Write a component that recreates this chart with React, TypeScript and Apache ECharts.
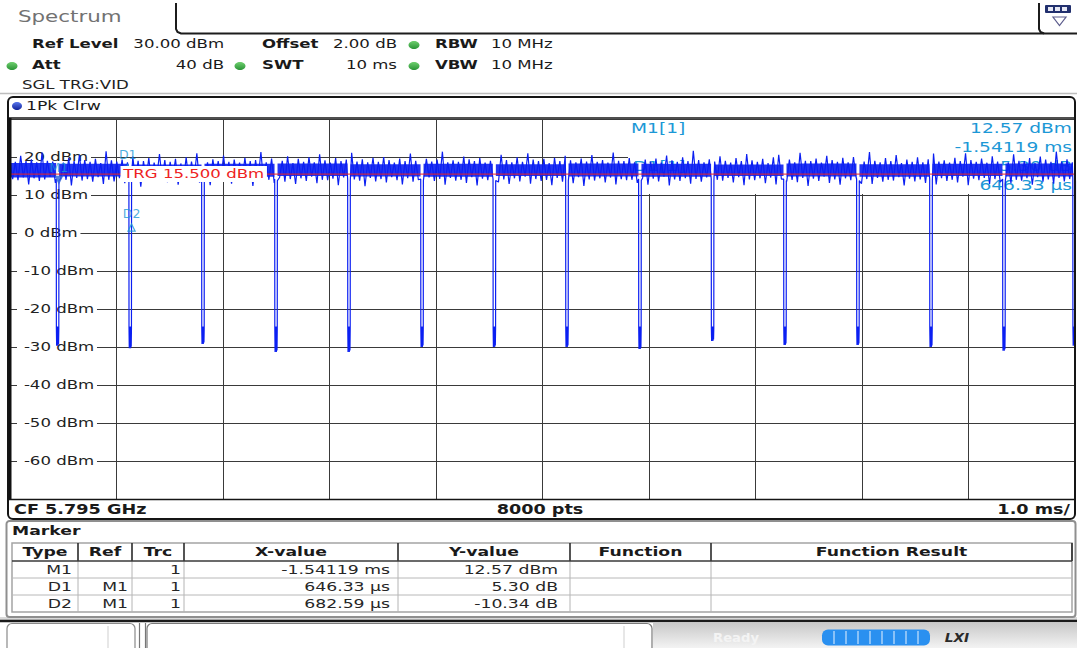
import React, { useEffect, useRef } from "react";
import * as echarts from "echarts";

// ---------------- data ----------------
const X_MIN = -2; // ms
const X_MAX = 8; // ms
const X_DIV = 1; // 1.0 ms/div
const Y_MIN = -70; // dBm
const Y_MAX = 30; // dBm (Ref Level)
const Y_DIV = 10;
const Y_TICK_LABELS = [20, 10, 0, -10, -20, -30, -40, -50, -60];

const PULSE_TIMES_MS = [
  -1.553, -0.871, -0.188, 0.498, 1.183, 1.869, 2.548, 3.23, 3.915, 4.597, 5.277, 5.962, 6.648, 7.333, 7.992,
];
const PULSE_FLOORS_DBM = [
  -29.7, -30.3, -29.2, -31.3, -31.3, -30.0, -30.0, -30.0, -30.5, -28.4, -29.5, -29.5, -30.0, -31.0, -29.7,
];

// dense core of the carrier between the gaps (dBm), one pair per segment
const CORE_LOW_DBM = [14.6, 14.9, 15.0, 14.8, 15.0, 14.9, 14.8, 15.0, 14.9, 14.8, 15.0, 14.9, 14.8, 15.0, 14.9];
const CORE_HIGH_DBM = [18.4, 18.2, 18.0, 18.2, 18.3, 18.1, 18.2, 18.1, 18.3, 18.2, 18.0, 18.3, 18.1, 18.2, 18.3];

// peak-detected trace of the carrier between the gaps (dBm), left to right
const NOISE_DBM = [
  19.1, 14.2, 18.7, 13.9, 20.3, 14.6, 18.9, 12.8, 19.4, 14.4, 18.6, 13.7, 21.2, 14.1, 19.0, 14.8, 18.8, 13.2, 19.6, 14.3,
  18.5, 14.0, 19.8, 12.5, 18.9, 14.5, 20.6, 13.8, 19.2, 14.2, 18.7, 13.5, 19.5, 14.7, 18.4, 12.9, 21.5, 14.0, 19.1, 13.6,
  18.8, 14.4, 19.3, 13.1, 18.6, 14.6, 20.1, 13.9, 19.0, 12.2, 18.9, 14.3, 19.7, 13.6, 18.5, 14.8, 20.8, 14.1, 19.2, 13.4,
  18.7, 14.5, 19.5, 12.7, 18.3, 14.0, 19.9, 13.8, 18.8, 14.6, 21.0, 13.3, 19.1, 14.2, 18.6, 12.6, 19.4, 14.4, 18.9, 13.7,
  20.4, 14.1, 18.7, 13.0, 19.3, 14.7, 18.5, 13.8, 19.8, 14.3, 18.9, 12.4, 19.2, 14.5, 21.3, 13.6, 18.6, 14.0, 19.6, 13.2,
  18.8, 14.6, 19.0, 13.5, 20.2, 14.2, 18.4, 12.9, 19.5, 14.4, 18.7, 13.7, 19.9, 14.8, 18.6, 13.1, 20.7, 14.0, 19.1, 13.9,
  18.5, 14.3, 19.7, 12.6, 18.9, 14.6, 19.3, 13.4, 21.1, 14.1, 18.8, 13.8, 19.4, 12.3, 18.6, 14.5, 19.8, 13.6, 18.7, 14.2,
  20.0, 13.3, 19.2, 14.7, 18.5, 13.9, 19.6, 12.8, 18.9, 14.4, 20.9, 13.5, 19.0, 14.0, 18.4, 13.1, 19.5, 14.6, 18.8, 13.7,
  19.3, 14.2, 21.4, 12.7, 18.6, 14.5, 19.1, 13.8, 18.7, 14.0, 20.1, 13.2, 19.4, 14.7, 18.9, 12.5, 19.7, 14.3, 18.5, 13.9,
  19.0, 14.6, 18.8, 13.4, 20.6, 14.1, 19.2, 12.9, 18.6, 14.4, 19.9, 13.6, 18.7, 14.8, 21.0, 13.0, 19.3, 14.2, 18.9, 13.7,
  19.5, 14.0, 18.4, 12.6, 19.8, 14.5, 18.9, 13.5, 20.3, 14.3, 19.1, 13.1, 18.6, 14.7, 19.6, 12.4, 18.8, 14.1, 20.5, 13.8,
  18.7, 14.4, 19.2, 13.3, 18.5, 14.6, 21.2, 12.8, 19.0, 14.2, 18.9, 13.9, 19.7, 14.0, 18.6, 13.2, 20.0, 14.5, 19.3, 12.7,
  18.8, 14.3, 19.6, 13.6, 18.5, 14.8, 20.4, 12.5, 19.1, 14.1, 18.7, 13.7, 19.9, 14.4, 18.9, 13.0, 21.6, 14.2, 19.2, 13.5,
  18.6, 14.6, 19.4, 12.9, 18.8, 14.0, 20.2, 13.8, 19.0, 14.5, 18.5, 13.3, 19.7, 14.7, 18.9, 12.6, 20.8, 14.1, 19.1, 13.9,
  18.7, 14.4, 19.5, 13.1, 18.4, 14.6, 19.9, 12.8, 20.6, 14.2, 18.8, 13.6, 19.3, 14.0, 18.6, 13.4, 21.1, 14.5, 19.0, 12.4,
  18.9, 14.3, 19.6, 13.7, 18.5, 14.8, 20.3, 13.2, 19.2, 14.1, 18.7, 12.7, 19.8, 14.4, 18.6, 13.9, 20.0, 14.6, 19.4, 13.0,
  18.8, 14.2, 21.3, 12.9, 19.0, 14.5, 18.6, 13.5, 19.7, 14.0, 18.9, 13.8, 20.5, 14.7, 18.4, 12.5, 19.3, 14.3, 18.7, 13.6,
  19.9, 14.1, 18.6, 13.2, 19.4, 14.6, 20.9, 12.8, 18.8, 14.4, 19.1, 13.7, 18.5, 14.0, 19.8, 13.3, 18.9, 14.8, 21.0, 12.6,
  19.2, 14.3, 18.7, 13.9, 19.6, 14.5, 18.5, 12.9, 20.2, 14.2, 18.8, 13.4, 19.5, 14.6, 18.6, 13.1, 20.7, 14.0, 19.0, 13.8,
  18.9, 14.4, 19.7, 12.7, 18.4, 14.7, 20.1, 13.5, 19.3, 14.1, 18.7, 13.0, 21.4, 14.5, 18.8, 13.6, 19.4, 14.2, 18.6, 13.9,
];

// shape of one gap: times relative to pulse centre (ms); edge and knee levels (dBm)
const DIP_OFFSETS_MS = [-0.0125, -0.0115, -0.009, -0.006, -0.003, 0, 0.003, 0.006, 0.009, 0.0115, 0.0125];
const DIP_EDGE_IN_DBM = 14.2;
const DIP_EDGE_OUT_DBM = 13.8;
const DIP_KNEE_DBM = -25;
const DIP_HALF_MS = 0.014;

const TRG_LEVEL_DBM = 15.5;
const M1_TIME_MS = -1.54119;
const M1_LEVEL_DBM = 12.57;
const DELTA_NAMES = ["D1", "D2"];
const DELTA_TIME_US = [646.33, 682.59];
const DELTA_LEVEL_DB = [5.3, -10.34];

const SETTINGS_ROW1 = ["Ref Level", "30.00 dBm", "Offset", "2.00 dB", "RBW", "10 MHz"];
const SETTINGS_ROW2 = ["Att", "40 dB", "SWT", "10 ms", "VBW", "10 MHz"];
const SETTINGS_ROW3 = "SGL TRG:VID";
const CENTER_FREQ = "CF 5.795 GHz";
const SWEEP_POINTS = "8000 pts";
const TIME_PER_DIV = "1.0 ms/";
const TABLE_HEAD = ["Type", "Ref", "Trc", "X-value", "Y-value", "Function", "Function Result"];

// ---------------- styling ----------------
const FONT = '"DejaVu Sans", Verdana, sans-serif';
const FONT_COND = '"DejaVu Sans Condensed", "DejaVu Sans", sans-serif';
const SX = 1.38; // horizontal stretch of the screenshot's lettering
const CYAN = "#1c98d6";
const TRACE = "#0b1ff2";
const RED = "#ee2222";
const GRIDC = "#3a3a3a";

type TOpt = {
  size?: number;
  bold?: boolean;
  italic?: boolean;
  color?: string;
  align?: "left" | "center" | "right";
  z?: number;
  bg?: string;
  pad?: number[];
  family?: string;
  sx?: number;
};

const txt = (x: number, y: number, text: string, o: TOpt = {}) => ({
  type: "text",
  x,
  y,
  scaleX: o.sx ?? SX,
  z: o.z ?? 40,
  silent: true,
  style: {
    text,
    x: 0,
    y: 0,
    fill: o.color ?? "#1a1a1a",
    font: `${o.italic ? "italic " : ""}${o.bold ? "bold " : ""}${o.size ?? 12}px ${o.family ?? FONT}`,
    align: o.align ?? "left",
    verticalAlign: "middle",
    textAlign: o.align ?? "left",
    textVerticalAlign: "middle",
    backgroundColor: o.bg,
    padding: o.pad,
  },
});

const line = (x1: number, y1: number, x2: number, y2: number, stroke: string, lw = 1, z = 30) => ({
  type: "line",
  z,
  silent: true,
  shape: { x1, y1, x2, y2 },
  style: { stroke, lineWidth: lw },
});

const rect = (x: number, y: number, w: number, h: number, style: any, r = 0, z = 30) => ({
  type: "rect",
  z,
  silent: true,
  shape: { x, y, width: w, height: h, r },
  style,
});

const dot = (cx: number, cy: number, c1: string, c2: string, rx = 5.5, ry = 4) => ({
  type: "ellipse",
  z: 30,
  silent: true,
  shape: { cx, cy, rx, ry },
  style: { fill: new echarts.graphic.LinearGradient(0, 0, 0, 1, [{ offset: 0, color: c1 }, { offset: 1, color: c2 }]) },
});

// ---------------- derived ----------------
function buildTrace(): number[][] {
  const pts: number[][] = [];
  const n = NOISE_DBM.length;
  const dt = (X_MAX - X_MIN) / (n - 1);
  NOISE_DBM.forEach((v, i) => {
    const t = X_MIN + i * dt;
    if (PULSE_TIMES_MS.some((p) => Math.abs(t - p) < 0.016)) return;
    pts.push([t, v]);
  });
  PULSE_TIMES_MS.forEach((p, k) => {
    const f = PULSE_FLOORS_DBM[k];
    const lv = [
      DIP_EDGE_IN_DBM, DIP_KNEE_DBM, f, DIP_KNEE_DBM - 0.6, f + 0.5, DIP_KNEE_DBM + 0.4,
      f, DIP_KNEE_DBM - 1, f + 0.4, DIP_KNEE_DBM, DIP_EDGE_OUT_DBM,
    ];
    DIP_OFFSETS_MS.forEach((o, j) => pts.push([p + o, lv[j]]));
  });
  pts.sort((a, b) => a[0] - b[0]);
  return pts;
}

// [start, end, low, high] for the solid core between two gaps
function buildCore(): number[][] {
  const bounds = [X_MIN - DIP_HALF_MS, ...PULSE_TIMES_MS];
  const segs: number[][] = [];
  for (let k = 0; k < CORE_LOW_DBM.length; k++) {
    const s = Math.max(X_MIN, bounds[k] + DIP_HALF_MS);
    const e = Math.min(X_MAX, bounds[k + 1] !== undefined ? bounds[k + 1] - DIP_HALF_MS : X_MAX);
    if (e > s) segs.push([s, e, CORE_LOW_DBM[k], CORE_HIGH_DBM[k]]);
  }
  return segs;
}

const fmtDb = (v: number) => `${v.toFixed(2)} dB`;
const DELTAS = DELTA_NAMES.map((name, i) => ({
  name,
  t: M1_TIME_MS + DELTA_TIME_US[i] / 1000,
  v: M1_LEVEL_DBM + DELTA_LEVEL_DB[i],
  xText: `${DELTA_TIME_US[i].toFixed(2)} µs`,
  yText: fmtDb(DELTA_LEVEL_DB[i]),
}));
const M1_X_TEXT = `${M1_TIME_MS.toFixed(5)} ms`;
const M1_Y_TEXT = `${M1_LEVEL_DBM.toFixed(2)} dBm`;

function staticGraphics(): any[] {
  const g: any[] = [];
  // tab header
  g.push({
    type: "polyline", z: 30, silent: true,
    shape: { points: [[176, 3], [176, 29], [177.5, 32], [181, 33.5], [1077, 33.5]] },
    style: { stroke: "#1c1c1c", lineWidth: 2, fill: "none" },
  });
  g.push({
    type: "polyline", z: 30, silent: true,
    shape: { points: [[1039, 3], [1039, 29], [1040.5, 32], [1044, 33.5]] },
    style: { stroke: "#1c1c1c", lineWidth: 2, fill: "none" },
  });
  g.push(rect(1045, 5, 26, 8, { fill: "#22306e" }, 1));
  [1048, 1055, 1062].forEach((x) => g.push(rect(x, 7, 5, 4, { fill: "#e6e8f4" }, 0, 31)));
  g.push({
    type: "polygon", z: 30, silent: true,
    shape: { points: [[1053, 17], [1066, 17], [1059.5, 25.5]] },
    style: { fill: "#ffffff", stroke: "#5c5c8c", lineWidth: 1.2 },
  });
  g.push(txt(18, 17, "Spectrum", { size: 15.5, color: "#727272" }));

  // settings
  const r1y = 44, r2y = 65;
  g.push(txt(32, r1y, SETTINGS_ROW1[0], { bold: true }));
  g.push(txt(224, r1y, SETTINGS_ROW1[1], { align: "right" }));
  g.push(txt(262, r1y, SETTINGS_ROW1[2], { bold: true }));
  g.push(txt(397, r1y, SETTINGS_ROW1[3], { align: "right" }));
  g.push(txt(435, r1y, SETTINGS_ROW1[4], { bold: true }));
  g.push(txt(491, r1y, SETTINGS_ROW1[5]));
  g.push(txt(32, r2y, SETTINGS_ROW2[0], { bold: true }));
  g.push(txt(224, r2y, SETTINGS_ROW2[1], { align: "right" }));
  g.push(txt(262, r2y, SETTINGS_ROW2[2], { bold: true }));
  g.push(txt(397, r2y, SETTINGS_ROW2[3], { align: "right" }));
  g.push(txt(435, r2y, SETTINGS_ROW2[4], { bold: true }));
  g.push(txt(491, r2y, SETTINGS_ROW2[5]));
  g.push(txt(22, 85, SETTINGS_ROW3, { color: "#222" }));
  [[414, 45], [12, 66], [240, 66], [414, 66]].forEach(([x, y]) => g.push(dot(x, y, "#6fcf6f", "#2a9436")));
  g.push(line(0, 93.5, 1077, 93.5, "#bdbdbd", 1.5));

  // diagram frame
  g.push(rect(8, 97, 1067, 422, { fill: "none", stroke: "#151515", lineWidth: 2 }, 5, 31));
  g.push(dot(17, 106, "#5a78ec", "#10219a", 5, 4));
  g.push(txt(26, 106, "1Pk Clrw", { size: 12.5 }));
  g.push(line(9, 118, 1075, 118, "#151515", 1.6));
  g.push(line(10.2, 118, 10.2, 499, "#111", 2.6, 31));
  g.push(line(9, 499.5, 1075, 499.5, "#151515", 1.6));
  g.push(txt(14, 509.5, CENTER_FREQ, { bold: true, size: 14, family: FONT_COND, sx: 1.4 }));
  g.push(txt(540, 509.5, SWEEP_POINTS, { bold: true, size: 14, family: FONT_COND, sx: 1.4, align: "center" }));
  g.push(txt(1070, 509.5, TIME_PER_DIV, { bold: true, size: 14, family: FONT_COND, sx: 1.4, align: "right" }));

  // marker info field (top right of the diagram)
  g.push(rect(628, 120, 446, 74, { fill: "#ffffff" }, 0, 1));
  g.push(txt(631, 128, "M1[1]", { size: 13.5, color: CYAN, z: 1 }));
  g.push(txt(1072, 128, M1_Y_TEXT, { size: 13.5, color: CYAN, align: "right", z: 1 }));
  g.push(txt(1072, 147, M1_X_TEXT, { size: 13.5, color: CYAN, align: "right", z: 1 }));
  g.push(txt(633, 166, `${DELTAS[0].name}[1]`, { size: 13.5, color: CYAN, z: 1 }));
  g.push(txt(1072, 166, DELTAS[0].yText, { size: 13.5, color: CYAN, align: "right", z: 1 }));
  g.push(txt(1072, 185, DELTAS[0].xText, { size: 13.5, color: CYAN, align: "right", z: 1 }));

  // marker table
  g.push(rect(6.5, 521, 1069, 96, { fill: "#ffffff", stroke: "#8f8f8f", lineWidth: 2 }, 3, 25));
  g.push(txt(12, 531, "Marker", { bold: true, size: 12.5 }));
  const COL_X = [12, 78, 132, 184, 398, 570, 711, 1072];
  const RIGHT_PAD = [6, 4, 3, 8, 12];
  g.push(rect(12, 543, 1060, 69, { fill: "#ffffff", stroke: "#a4a4a4", lineWidth: 1.5 }, 0, 26));
  for (let i = 1; i < COL_X.length - 1; i++) {
    g.push(line(COL_X[i], 543, COL_X[i], 561, "#2a2a2a", 1.6));
    g.push(line(COL_X[i], 561, COL_X[i], 612, "#b4b4b4", 1));
  }
  g.push(line(1072, 543, 1072, 561, "#2a2a2a", 1.6));
  g.push(line(12, 561, 1072, 561, "#3a3a3a", 1.5));
  g.push(line(12, 578, 1072, 578, "#b8b8b8", 1));
  g.push(line(12, 595, 1072, 595, "#b8b8b8", 1));
  TABLE_HEAD.forEach((h, i) =>
    g.push(txt((COL_X[i] + COL_X[i + 1]) / 2, 552, h, { bold: true, size: 12.5, align: "center" }))
  );
  const rows = [
    ["M1", "", "1", M1_X_TEXT, M1_Y_TEXT],
    ...DELTAS.map((d) => [d.name, "M1", "1", d.xText, d.yText]),
  ];
  rows.forEach((r, ri) => {
    const y = 569.5 + ri * 17;
    r.forEach((c, ci) => {
      if (c) g.push(txt(COL_X[ci + 1] - RIGHT_PAD[ci], y, c, { size: 12.5, align: "right", color: "#262626" }));
    });
  });

  // status bar
  g.push(rect(0, 617, 1077, 4, { fill: "#d9d9d9" }, 0, 24));
  g.push(line(0, 621, 1077, 621, "#1a1a1a", 2.5));
  g.push(rect(7, 623.5, 128, 30, { fill: "#ffffff", stroke: "#8a8a8a", lineWidth: 1.2 }, 5));
  g.push(line(108, 626, 108, 648, "#cfcfcf", 1));
  g.push(line(139.5, 623, 139.5, 648, "#777", 1.2));
  g.push(line(145.5, 623, 145.5, 648, "#777", 1.2));
  g.push(rect(147, 623.5, 505, 30, { fill: "#ffffff", stroke: "#7a7a7a", lineWidth: 1.2 }, 5));
  g.push(line(624, 626, 624, 648, "#cfcfcf", 1));
  g.push(
    rect(653, 622.5, 424, 26, {
      fill: new echarts.graphic.LinearGradient(0, 0, 0, 1, [
        { offset: 0, color: "#c8c8c8" },
        { offset: 1, color: "#f4f4f4" },
      ]),
    })
  );
  g.push(txt(713, 638, "Ready", { size: 12, color: "#f4f4f4", bold: true, sx: 1.1 }));
  g.push(rect(822, 629.5, 108, 16, { fill: "#2a90f0" }, 6, 31));
  for (let i = 1; i < 9; i++) g.push(line(822 + i * 12, 631, 822 + i * 12, 644, "rgba(255,255,255,0.75)", 1.2, 32));
  g.push(txt(957, 638, "LXI", { size: 12.5, bold: true, italic: true, color: "#2a2a2a", align: "center", sx: 1.1 }));
  return g;
}

function buildOption(extra: any[]) {
  const trace = buildTrace();
  const core = buildCore();
  const markerData: any[] = [
    {
      value: [M1_TIME_MS, M1_LEVEL_DBM],
      symbol: "triangle",
      symbolRotate: 180,
      symbolSize: [9, 9],
      symbolOffset: [0, -5],
      itemStyle: { color: "#2a62d8" },
      label: { show: true, formatter: "M1", position: "top", distance: 2, color: CYAN, fontSize: 12.5, fontFamily: FONT },
    },
    ...DELTAS.map((d) => ({
      value: [d.t, d.v],
      symbol: "triangle",
      symbolSize: [7, 7],
      symbolOffset: [0, 3],
      itemStyle: { color: "rgba(255,255,255,0)", borderColor: CYAN, borderWidth: 1.3 },
      label: { show: true, formatter: d.name, position: "top", distance: 3, color: CYAN, fontSize: 12.5, fontFamily: FONT },
    })),
  ];
  return {
    animation: false,
    backgroundColor: "#ffffff",
    grid: { left: 10, right: 2, top: 119, bottom: 149, containLabel: false, outerBoundsMode: "none" },
    xAxis: {
      type: "value",
      min: X_MIN,
      max: X_MAX,
      interval: X_DIV,
      axisLine: { show: false },
      axisTick: { show: false },
      axisLabel: { show: false },
      splitLine: { show: true, lineStyle: { color: GRIDC, width: 1 } },
    },
    yAxis: {
      type: "value",
      min: Y_MIN,
      max: Y_MAX,
      interval: Y_DIV,
      axisLine: { show: false },
      axisTick: { show: false },
      axisLabel: { show: false },
      splitLine: { show: true, lineStyle: { color: GRIDC, width: 1 } },
    },
    series: [
      {
        type: "custom",
        name: "core",
        z: 2,
        silent: true,
        clip: true,
        data: core,
        renderItem: (params: any, api: any) => {
          const p0 = api.coord([api.value(0), api.value(3)]);
          const p1 = api.coord([api.value(1), api.value(2)]);
          return {
            type: "rect",
            shape: { x: p0[0], y: p0[1], width: p1[0] - p0[0], height: p1[1] - p0[1] },
            style: { fill: TRACE, opacity: 0.9 },
          };
        },
      },
      {
        type: "line",
        name: "1Pk Clrw",
        data: trace,
        z: 2,
        showSymbol: false,
        symbol: "none",
        silent: true,
        clip: true,
        lineStyle: { color: TRACE, width: 1.2 },
      },
      {
        type: "line",
        name: "TRG",
        data: [
          [X_MIN, TRG_LEVEL_DBM],
          [X_MAX, TRG_LEVEL_DBM],
        ],
        z: 3,
        showSymbol: false,
        symbol: "none",
        silent: true,
        lineStyle: { color: RED, width: 1 },
      },
      {
        type: "scatter",
        name: "markers",
        z: 4,
        silent: true,
        data: markerData,
      },
    ],
    graphic: [...staticGraphics(), ...extra],
  };
}

export default function App() {
  const ref = useRef<HTMLDivElement>(null);
  useEffect(() => {
    const el = ref.current;
    if (!el) return;
    const chart = echarts.init(el, null, { renderer: "svg" });
    chart.setOption(buildOption([]));
    const px = (t: number) => chart.convertToPixel({ xAxisIndex: 0 }, t) as number;
    const py = (v: number) => chart.convertToPixel({ yAxisIndex: 0 }, v) as number;
    const extra: any[] = [];
    const lx = px(X_MIN) + 7;
    Y_TICK_LABELS.forEach((v) => {
      extra.push(txt(lx, py(v), `${v} dBm`, { size: 12, color: "#222", bg: "#ffffff", pad: [1, 2, 1, 5], z: 1 }));
    });
    extra.push(
      txt(px(-1) + 4, py(TRG_LEVEL_DBM), `TRG ${TRG_LEVEL_DBM.toFixed(3)} dBm`, {
        size: 12,
        color: RED,
        bg: "#ffffff",
        pad: [2, 2, 2, 2],
        z: 10,
      })
    );
    chart.setOption(buildOption(extra), true);
    return () => chart.dispose();
  }, []);
  return (
    <div
      ref={ref}
      style={{ position: "fixed", left: 0, top: 0, width: 1077, height: 648, background: "#ffffff" }}
    />
  );
}
